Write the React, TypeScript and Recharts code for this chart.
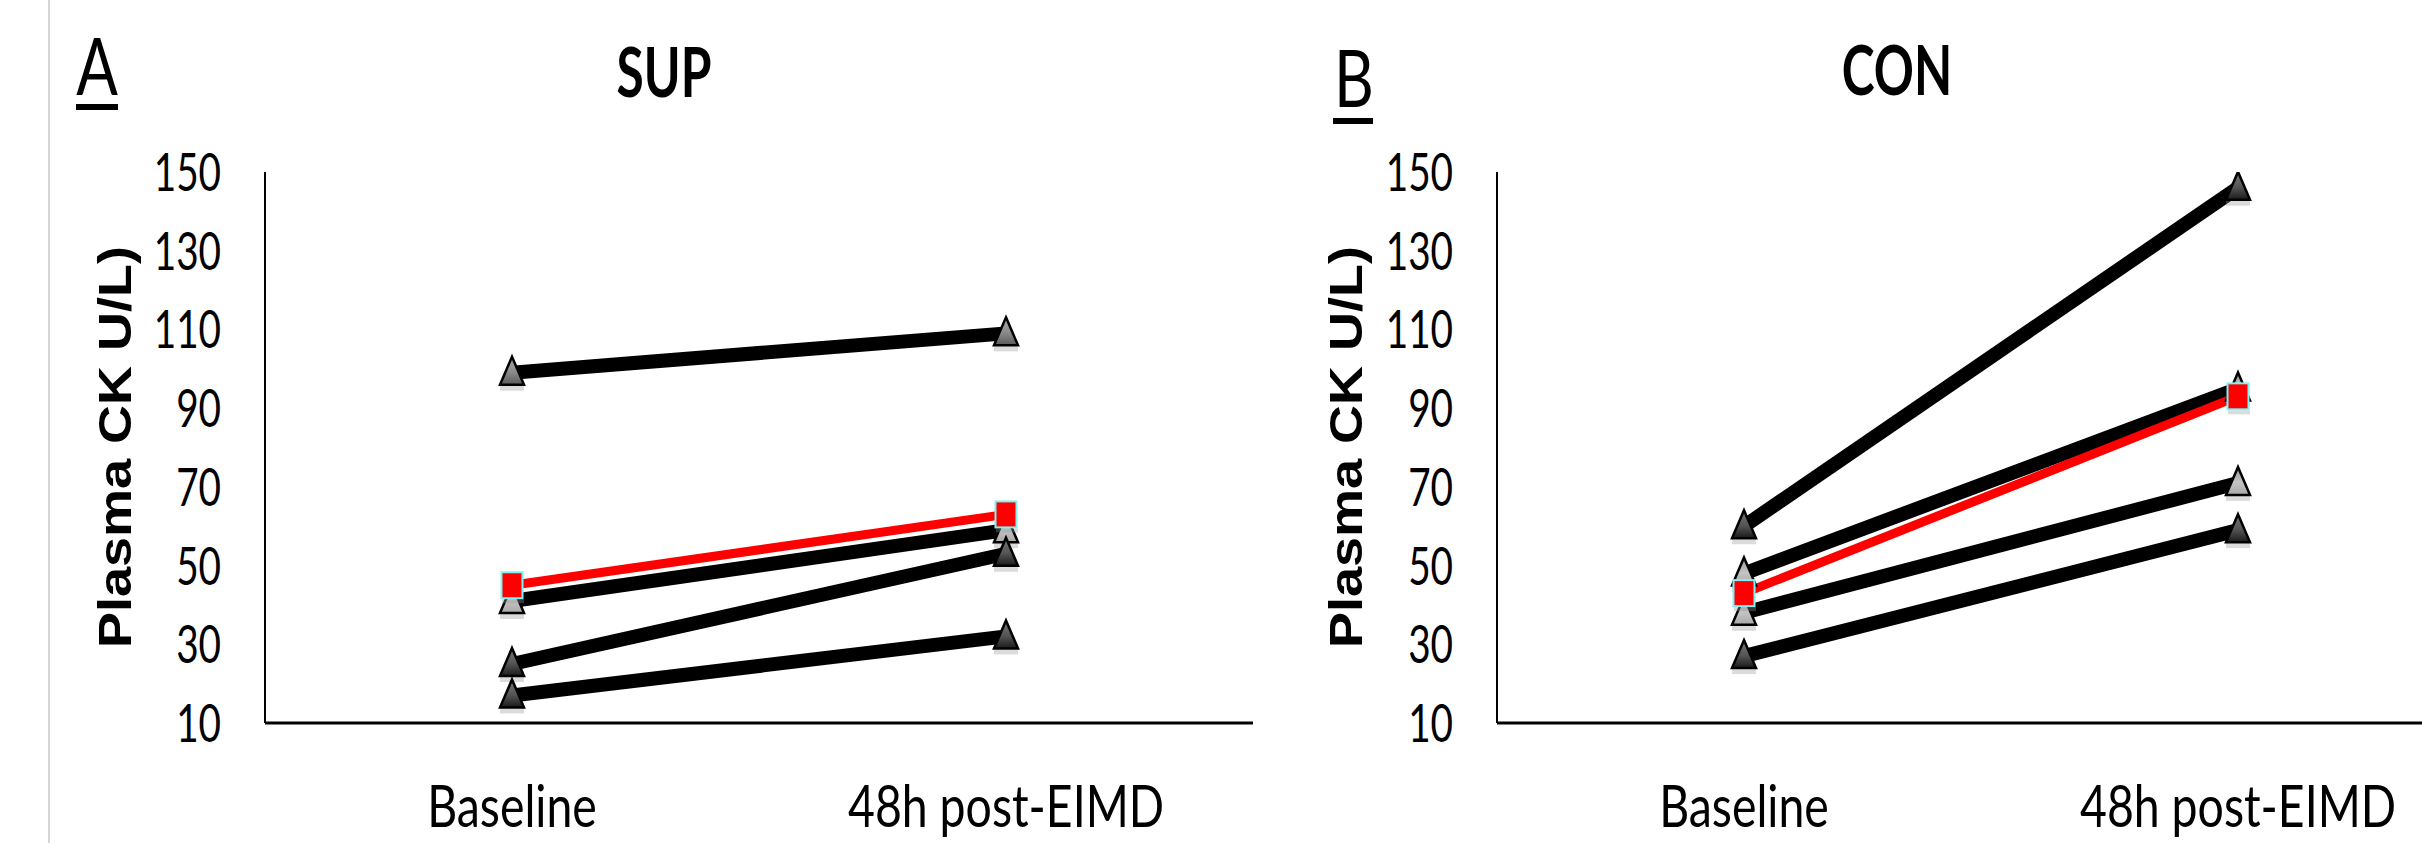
import { Line, LineChart, XAxis, YAxis } from 'recharts';

const categories = ['Baseline', '48h post-EIMD'];
const yTicks = [10, 30, 50, 70, 90, 110, 130, 150];

// SUP group: one pair per participant, red = group mean
const supP1 = [99, 109];
const supP2 = [41, 59];
const supP3 = [25, 53];
const supP4 = [17, 32];
const supMean = [45, 63];

// CON group
const conP1 = [60, 146];
const conP2 = [48, 95];
const conP3 = [38, 71];
const conP4 = [27, 59];
const conMean = [43, 93];

type Shade = 'dark' | 'mid' | 'light';

const supShades: Shade[] = ['mid', 'light', 'dark', 'dark'];
const conShades: Shade[] = ['dark', 'light', 'light', 'dark'];

const buildRows = (series: number[][], mean: number[]) =>
  categories.map((cat, i) => ({
    cat,
    p1: series[0][i],
    p2: series[1][i],
    p3: series[2][i],
    p4: series[3][i],
    mean: mean[i],
  }));

const supRows = buildRows([supP1, supP2, supP3, supP4], supMean);
const conRows = buildRows([conP1, conP2, conP3, conP4], conMean);

const calibriLike = 'Lato, "Open Sans", sans-serif';

const triangleDot = (shade: Shade, id: string) => (props: any) => {
  const { cx, cy, index } = props;
  if (cx == null || cy == null) return <g key={`${id}-${index}`} />;
  return (
    <g key={`${id}-${index}`}>
      <rect x={cx - 12} y={cy + 13} width={24} height={5} fill="#999" opacity={0.35} />
      <polygon
        points={`${cx},${cy - 16} ${cx + 12},${cy + 12} ${cx - 12},${cy + 12}`}
        fill={`url(#tri-${shade})`}
        stroke="#000"
        strokeWidth={2.5}
        strokeLinejoin="miter"
      />
    </g>
  );
};

const squareDot = (id: string) => (props: any) => {
  const { cx, cy, index } = props;
  if (cx == null || cy == null) return <g key={`${id}-${index}`} />;
  return (
    <g key={`${id}-${index}`}>
      <rect x={cx - 10} y={cy + 14} width={22} height={4} fill="#999" opacity={0.35} />
      <rect
        x={cx - 10.5}
        y={cy - 13}
        width={21}
        height={26}
        fill="#ff0000"
        stroke="#7ff3f3"
        strokeWidth={2}
      />
    </g>
  );
};

const YTick = (props: any) => {
  const { x, y, payload } = props;
  return (
    <text
      transform={`translate(${x},${y + 19}) scale(0.73,1)`}
      textAnchor="end"
      fontFamily={calibriLike}
      fontSize={53}
      fill="#000"
    >
      {payload.value}
    </text>
  );
};

const XTick = (props: any) => {
  const { x, y, payload } = props;
  return (
    <text
      transform={`translate(${x},${y + 104}) scale(0.8,1)`}
      textAnchor="middle"
      fontFamily={calibriLike}
      fontSize={58}
      fill="#000"
    >
      {payload.value}
    </text>
  );
};

function Gradients() {
  return (
    <defs>
      <linearGradient id="tri-dark" x1="0" y1="0" x2="0" y2="1">
        <stop offset="0%" stopColor="#777" />
        <stop offset="55%" stopColor="#555" />
        <stop offset="100%" stopColor="#1a1a1a" />
      </linearGradient>
      <linearGradient id="tri-mid" x1="0" y1="0" x2="0" y2="1">
        <stop offset="0%" stopColor="#aaa" />
        <stop offset="55%" stopColor="#8a8a8a" />
        <stop offset="100%" stopColor="#5a5a5a" />
      </linearGradient>
      <linearGradient id="tri-light" x1="0" y1="0" x2="0" y2="1">
        <stop offset="0%" stopColor="#999" />
        <stop offset="55%" stopColor="#c4c4c4" />
        <stop offset="100%" stopColor="#a8a8a8" />
      </linearGradient>
    </defs>
  );
}

function Panel({
  id,
  left,
  width,
  yAxisWidth,
  rows,
  shades,
}: {
  id: string;
  left: number;
  width: number;
  yAxisWidth: number;
  rows: any[];
  shades: Shade[];
}) {
  const keys = ['p1', 'p2', 'p3', 'p4'];
  return (
    <LineChart
      width={width}
      height={843}
      data={rows}
      margin={{ top: 172, right: 0, bottom: 0, left: 0 }}
      style={{ position: 'absolute', left, top: 0 }}
    >
      <Gradients />
      <XAxis
        dataKey="cat"
        scale="point"
        padding={{ left: 247, right: 247 }}
        height={120}
        tickLine={false}
        tickSize={0}
        tickMargin={0}
        interval={0}
        axisLine={{ stroke: '#000', strokeWidth: 3 }}
        tick={<XTick />}
      />
      <YAxis
        type="number"
        domain={[10, 150]}
        ticks={yTicks}
        interval={0}
        allowDataOverflow
        width={yAxisWidth}
        tickLine={false}
        tickSize={0}
        tickMargin={44}
        axisLine={{ stroke: '#000', strokeWidth: 2 }}
        tick={<YTick />}
      />
      {keys.map((k, i) => (
        <Line
          key={k}
          dataKey={k}
          stroke="#000"
          strokeWidth={14}
          isAnimationActive={false}
          activeDot={false}
          dot={triangleDot(shades[i], `${id}-${k}`)}
        />
      ))}
      <Line
        dataKey="mean"
        stroke="#ff0000"
        strokeWidth={9}
        isAnimationActive={false}
        activeDot={false}
        dot={squareDot(`${id}-mean`)}
      />
    </LineChart>
  );
}

export default function App() {
  return (
    <div
      style={{
        position: 'absolute',
        left: 0,
        top: 0,
        width: 2422,
        height: 843,
        overflow: 'hidden',
        background: '#fff',
      }}
    >
      <div
        style={{
          position: 'absolute',
          left: 48,
          top: 0,
          width: 2,
          height: 843,
          background: '#d6d6d6',
        }}
      />
      <Panel id="sup" left={0} width={1253} yAxisWidth={265} rows={supRows} shades={supShades} />
      <Panel id="con" left={1260} width={1225} yAxisWidth={237} rows={conRows} shades={conShades} />
      <svg
        width={2422}
        height={843}
        style={{ position: 'absolute', left: 0, top: 0, pointerEvents: 'none' }}
      >
        <text transform="translate(97,95) scale(0.77,1)" textAnchor="middle" fontFamily={calibriLike} fontSize={80}>
          A
        </text>
        <rect x={76} y={104} width={42} height={6} fill="#000" />
        <text transform="translate(1354,107) scale(0.77,1)" textAnchor="middle" fontFamily={calibriLike} fontSize={80}>
          B
        </text>
        <rect x={1333} y={118} width={40} height={6} fill="#000" />

        <text
          transform="translate(664,97) scale(0.72,1)"
          textAnchor="middle"
          fontFamily={calibriLike}
          fontWeight={700}
          fontSize={69}
        >
          SUP
        </text>
        <text
          transform="translate(1897,95) scale(0.72,1)"
          textAnchor="middle"
          fontFamily={calibriLike}
          fontWeight={700}
          fontSize={69}
        >
          CON
        </text>

        <text
          transform="translate(131,447) scale(0.87,1) rotate(-90)"
          textAnchor="middle"
          fontFamily='"Liberation Sans", Arial, sans-serif'
          fontWeight={700}
          fontSize={54}
        >
          Plasma CK U/L)
        </text>
        <text
          transform="translate(1362,447) scale(0.87,1) rotate(-90)"
          textAnchor="middle"
          fontFamily='"Liberation Sans", Arial, sans-serif'
          fontWeight={700}
          fontSize={54}
        >
          Plasma CK U/L)
        </text>
      </svg>
    </div>
  );
}
